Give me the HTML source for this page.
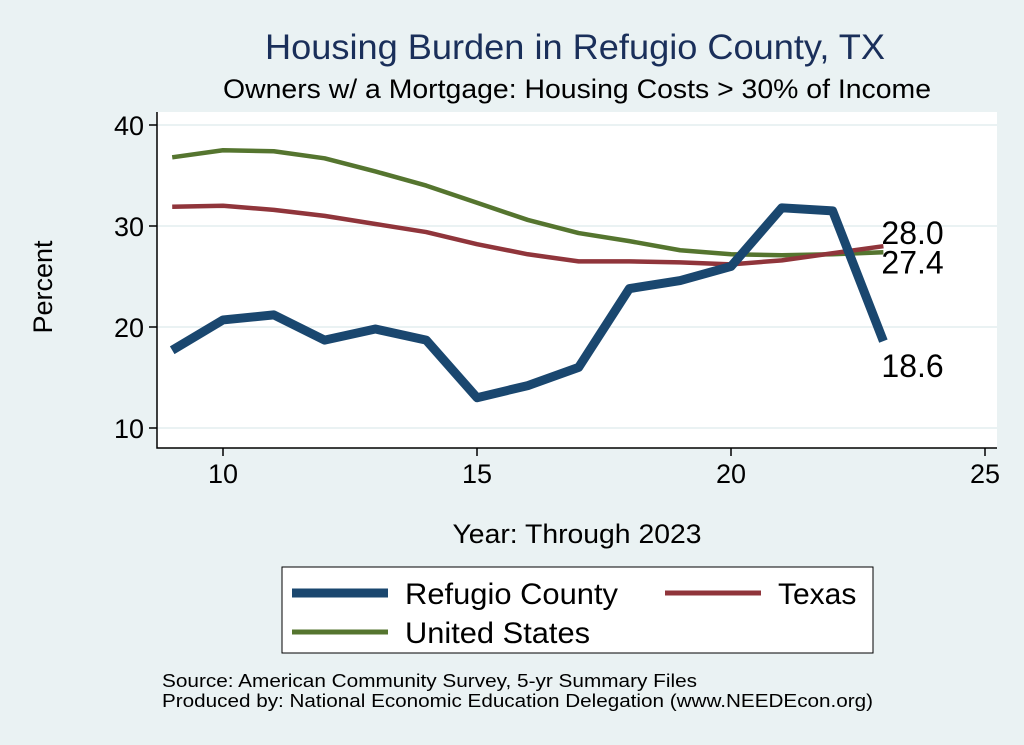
<!DOCTYPE html>
<html><head><meta charset="utf-8"><style>
body{margin:0;background:#eaf2f3;}
svg{display:block;font-family:"Liberation Sans",Arial,sans-serif;}
</style></head><body>
<svg id="chart" width="1024" height="745">
<rect width="1024" height="745" fill="#eaf2f3"/>
<text x="575" y="59" font-size="35" fill="#1a2f5a" text-anchor="middle" textLength="620" lengthAdjust="spacingAndGlyphs">Housing Burden in Refugio County, TX</text>
<text x="577" y="98" font-size="27" fill="#000" text-anchor="middle" textLength="708" lengthAdjust="spacingAndGlyphs">Owners w/ a Mortgage: Housing Costs &gt; 30% of Income</text>
<rect x="157" y="112" width="840" height="336" fill="#fff"/>
<g id="grid"></g>
<g id="axes"></g>
<g id="series"></g>
<text x="52" y="287" font-size="27" text-anchor="middle" transform="rotate(-90 52 287)">Percent</text>
<text x="577" y="543" font-size="27" text-anchor="middle" textLength="249" lengthAdjust="spacingAndGlyphs">Year: Through 2023</text>
<g>
<rect x="282" y="567" width="591" height="86" fill="#fff" stroke="#000" stroke-width="1"/>
<line x1="292" y1="593" x2="388" y2="593" stroke="#1a476f" stroke-width="9"/>
<text x="405" y="604" font-size="30" textLength="213" lengthAdjust="spacingAndGlyphs">Refugio County</text>
<line x1="665" y1="593" x2="761" y2="593" stroke="#90353b" stroke-width="5"/>
<text x="778" y="604" font-size="30">Texas</text>
<line x1="292" y1="632" x2="388" y2="632" stroke="#55752f" stroke-width="5"/>
<text x="405" y="643" font-size="30" textLength="185" lengthAdjust="spacingAndGlyphs">United States</text>
</g>
<text x="162" y="687" font-size="18" textLength="535" lengthAdjust="spacingAndGlyphs">Source: American Community Survey, 5-yr Summary Files</text>
<text x="162" y="707" font-size="18" textLength="711" lengthAdjust="spacingAndGlyphs">Produced by: National Economic Education Delegation (www.NEEDEcon.org)</text>
</svg>
<script>
const years=[9,10,11,12,13,14,15,16,17,18,19,20,21,22,23];
const refugio=[17.7,20.7,21.2,18.7,19.8,18.7,13.0,14.2,16.0,23.8,24.6,26.0,31.8,31.5,18.6];
const texas=[31.9,32.0,31.6,31.0,30.2,29.4,28.2,27.2,26.5,26.5,26.4,26.2,26.6,27.3,28.0];
const us=[36.8,37.5,37.4,36.7,35.4,34.0,32.3,30.6,29.3,28.5,27.6,27.2,27.1,27.2,27.4];
const xTicks=[10,15,20,25];
const yTicks=[10,20,30,40];
const NS="http://www.w3.org/2000/svg";
const X=v=>223+(v-10)*50.8;
const Y=v=>428-(v-10)*10.1;
function mk(tag,attrs,parent){const e=document.createElementNS(NS,tag);for(const k in attrs)e.setAttribute(k,attrs[k]);document.getElementById(parent).appendChild(e);return e;}
yTicks.forEach(t=>{
 const g=mk('line',{x1:157,x2:997,y1:Y(t),y2:Y(t),stroke:'#eaf2f3','stroke-width':2},'grid');
 
 
 const tk=mk('line',{x1:149,x2:157,y1:Y(t),y2:Y(t),stroke:'#000','stroke-width':1.5},'axes');
 
 
 const l=mk('text',{x:144,y:Y(t)+10,'font-size':27,'text-anchor':'end'},'axes');l.textContent=t;
 
 
});
xTicks.forEach(t=>{
 const tk=mk('line',{x1:X(t),x2:X(t),y1:448,y2:456,stroke:'#000','stroke-width':1.5},'axes');
 
 
 const l=mk('text',{x:X(t),y:483,'font-size':27,'text-anchor':'middle'},'axes');l.textContent=t;
 
 
});
const ax=mk('path',{d:'M157 112 V448 H997',fill:'none',stroke:'#000','stroke-width':1.5},'axes');


function line(vals,color,w,name){
 const p=mk('polyline',{points:vals.map((v,i)=>X(years[i])+','+Y(v)).join(' '),fill:'none',stroke:color,'stroke-width':w,'stroke-linejoin':'round'},'series');
 
 
}
line(us,'#55752f',4.5,'us-line');
line(texas,'#90353b',4.5,'texas-line');
line(refugio,'#1a476f',9,'refugio-line');
function lab(v,dy,name){
 const l=mk('text',{x:X(23)-2,y:Y(v)+dy,'font-size':32},'series');l.textContent=v.toFixed(1);
 
 
}
const last=years.length-1;
lab(texas[last],-2,'texas-end-label');
lab(us[last],21,'us-end-label');
lab(refugio[last],36,'refugio-end-label');
</script>
</body></html>
